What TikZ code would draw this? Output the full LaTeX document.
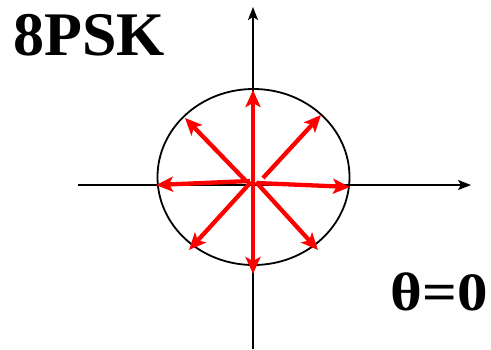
\documentclass[tikz,border=0pt]{standalone}
\usepackage{fontspec}
\usepackage{graphicx}
\setmainfont{Liberation Serif}
\usetikzlibrary{arrows.meta}
\begin{document}
\begin{tikzpicture}[x=1pt,y=-1pt,
  axis/.style={line width=1.8pt,-{Stealth[length=13pt,width=10pt,inset=3pt]}},
  vec/.style={red,line width=4.3pt,-{Stealth[length=17pt,width=15pt,inset=4pt]}},
  title/.style={inner sep=0pt,font=\bfseries\fontsize{62}{62}\selectfont},
  lab/.style={inner sep=0pt,font=\bfseries\fontsize{54}{54}\selectfont}]
\useasboundingbox (0,0) rectangle (491,349);
% axes
\coordinate (xl) at (78,185);
\coordinate (xr) at (471,185);
\coordinate (yb) at (253,349);
\coordinate (yt) at (253,7);
\draw[axis] (xl) -- (xr);
\draw[axis] (yb) -- (yt);
% ellipse
\draw[line width=1.8pt] (253.5,177) ellipse [x radius=96, y radius=88];
% vectors
\coordinate (tU) at (253,90);
\coordinate (tD) at (253,274);
\coordinate (tR) at (350,187);
\coordinate (tL) at (156,185);
\coordinate (tNE) at (321,115);
\coordinate (tNW) at (185,118);
\coordinate (tSW) at (189,250);
\coordinate (tSE) at (318,250);
\coordinate (sU) at (253,186);
\coordinate (sD) at (253,181);
\coordinate (sR) at (257,183);
\coordinate (sL) at (250,181);
\coordinate (sNE) at (263,178);
\coordinate (sNW) at (245,180);
\coordinate (sSW) at (251,182);
\coordinate (sSE) at (256,182);
\draw[vec] (sU) -- (tU);
\draw[vec] (sD) -- (tD);
\draw[vec] (sR) -- (tR);
\draw[vec] (sL) -- (tL);
\draw[vec] (sNE) -- (tNE);
\draw[vec] (sNW) -- (tNW);
\draw[vec] (sSW) -- (tSW);
\draw[vec] (sSE) -- (tSE);
% labels
\node[title,anchor=base west] (t8) at (13,55) {8PSK};
\node[lab,anchor=base east] (th) at (488,310) {\scalebox{1.13}[1]{θ=0}};
\end{tikzpicture}
\end{document}
